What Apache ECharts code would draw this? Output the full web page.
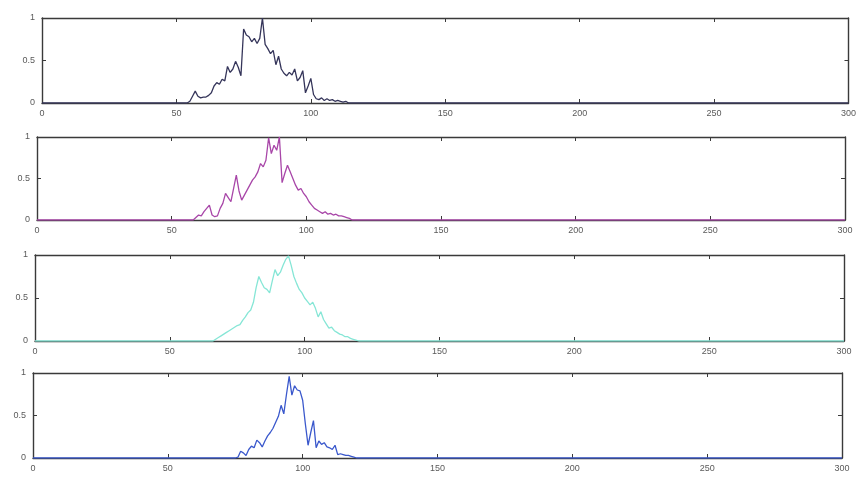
<!DOCTYPE html>
<html>
<head>
<meta charset="utf-8">
<script src="https://cdn.jsdelivr.net/npm/echarts@6/dist/echarts.min.js"></script>
<style>
  html, body { margin: 0; padding: 0; background: #fff; }
  #chart { width: 859px; height: 488px; }
</style>
</head>
<body>
<div id="chart"></div>
<script>
// Four stacked normalised distributions, x from 0 to 300, y from 0 to 1.
const xTicks = [0, 50, 100, 150, 200, 250, 300];
const yTicks = [0, 0.5, 1];

// Each trace: first x of the non-zero run, then values at unit steps.
const traceAStart = 54;
const traceAValues = [0, 0.02, 0.08, 0.14, 0.08, 0.06, 0.07, 0.07, 0.09, 0.12, 0.2, 0.24, 0.22, 0.28, 0.26, 0.43,
  0.36, 0.4, 0.49, 0.42, 0.32, 0.87, 0.8, 0.78, 0.72, 0.76, 0.7, 0.76, 1.0, 0.69, 0.64, 0.58, 0.62, 0.45, 0.55,
  0.4, 0.35, 0.32, 0.36, 0.33, 0.4, 0.26, 0.3, 0.38, 0.12, 0.2, 0.29, 0.1, 0.05, 0.04, 0.06, 0.03, 0.05, 0.03,
  0.04, 0.02, 0.03, 0.02, 0.01, 0.02, 0];

const traceBStart = 57;
const traceBValues = [0, 0, 0.03, 0.06, 0.05, 0.1, 0.14, 0.18, 0.06, 0.04, 0.05, 0.14, 0.2, 0.32, 0.27, 0.22,
  0.38, 0.54, 0.35, 0.24, 0.3, 0.36, 0.42, 0.48, 0.52, 0.58, 0.68, 0.64, 0.72, 0.99, 0.8, 0.9, 0.84, 1.0, 0.45,
  0.56, 0.66, 0.58, 0.5, 0.42, 0.36, 0.38, 0.32, 0.28, 0.22, 0.18, 0.14, 0.12, 0.1, 0.08, 0.1, 0.07, 0.08, 0.06,
  0.07, 0.05, 0.05, 0.04, 0.03, 0.02, 0];

const traceCStart = 66;
const traceCValues = [0, 0.02, 0.04, 0.06, 0.08, 0.1, 0.12, 0.14, 0.16, 0.18, 0.19, 0.24, 0.28, 0.33, 0.36, 0.45,
  0.62, 0.75, 0.68, 0.62, 0.6, 0.56, 0.7, 0.83, 0.76, 0.8, 0.88, 0.95, 0.99, 0.88, 0.75, 0.67, 0.6, 0.56, 0.5,
  0.46, 0.42, 0.45, 0.38, 0.28, 0.34, 0.25, 0.2, 0.15, 0.16, 0.12, 0.1, 0.08, 0.07, 0.05, 0.05, 0.03, 0.02, 0.01, 0];

const traceDStart = 75;
const traceDValues = [0, 0.01, 0.08, 0.06, 0.03, 0.1, 0.14, 0.12, 0.21, 0.18, 0.13, 0.2, 0.26, 0.3, 0.35, 0.42,
  0.49, 0.62, 0.52, 0.75, 0.96, 0.74, 0.85, 0.8, 0.79, 0.68, 0.4, 0.15, 0.3, 0.44, 0.12, 0.2, 0.16, 0.18, 0.13,
  0.12, 0.1, 0.15, 0.04, 0.05, 0.04, 0.03, 0.03, 0.02, 0.01, 0];

const traceColors = ['#35355a', '#a846a8', '#86e6d6', '#3a58cc'];

// Turn a start + run of values into [x, y] pairs spanning the full 0–300 range.
function toPairs(start, values) {
  const pts = [[0, 0]];
  values.forEach((v, i) => pts.push([start + i, v]));
  pts.push([300, 0]);
  return pts;
}

const traces = [
  toPairs(traceAStart, traceAValues),
  toPairs(traceBStart, traceBValues),
  toPairs(traceCStart, traceCValues),
  toPairs(traceDStart, traceDValues)
];

// Panel placement in pixels.
const panels = [
  { left: 42, right: 9, top: 18, height: 85 },
  { left: 37, right: 14, top: 137, height: 83 },
  { left: 35, right: 15, top: 255, height: 86 },
  { left: 33, right: 17, top: 373, height: 85 }
];

const axisColor = '#3a3a3a';
const labelStyle = { color: '#5a5a5a', fontSize: 9, fontFamily: 'Liberation Sans, Arial, sans-serif' };

const grid = [], xAxis = [], yAxis = [], series = [];
panels.forEach((p, i) => {
  grid.push({ left: p.left, right: p.right, top: p.top, height: p.height, show: false });
  const lineStyle = { color: axisColor, width: 1.4 };
  // bottom axis with labels
  xAxis.push({
    type: 'value', gridIndex: i, min: 0, max: 300, interval: 50, position: 'bottom',
    axisLine: { show: true, onZero: false, lineStyle },
    axisTick: { show: true, inside: true, length: 4, lineStyle: { color: axisColor } },
    axisLabel: Object.assign({ margin: 6, formatter: v => xTicks.includes(v) ? String(v) : '' }, labelStyle),
    splitLine: { show: false }
  });
  // top box edge
  xAxis.push({
    type: 'value', gridIndex: i, min: 0, max: 300, interval: 50, position: 'top',
    axisLine: { show: true, onZero: false, lineStyle },
    axisTick: { show: true, inside: true, length: 4, lineStyle: { color: axisColor } },
    axisLabel: { show: false }, splitLine: { show: false }
  });
  // left axis with labels
  yAxis.push({
    type: 'value', gridIndex: i, min: 0, max: 1, interval: 0.5, position: 'left',
    axisLine: { show: true, onZero: false, lineStyle },
    axisTick: { show: true, inside: true, length: 4, lineStyle: { color: axisColor } },
    axisLabel: Object.assign({ margin: 7, formatter: v => yTicks.includes(v) ? String(v) : '' }, labelStyle),
    splitLine: { show: false }
  });
  // right box edge
  yAxis.push({
    type: 'value', gridIndex: i, min: 0, max: 1, interval: 0.5, position: 'right',
    axisLine: { show: true, onZero: false, lineStyle },
    axisTick: { show: true, inside: true, length: 4, lineStyle: { color: axisColor } },
    axisLabel: { show: false }, splitLine: { show: false }
  });
  series.push({
    type: 'line', xAxisIndex: i * 2, yAxisIndex: i * 2, data: traces[i],
    showSymbol: false, symbol: 'none', animation: false, z: 1,
    lineStyle: { color: traceColors[i], width: 1.3 }
  });
});

const chart = echarts.init(document.getElementById('chart'), null, { renderer: 'canvas' });
chart.setOption({ animation: false, backgroundColor: '#fff', grid, xAxis, yAxis, series });
</script>
</body>
</html>
